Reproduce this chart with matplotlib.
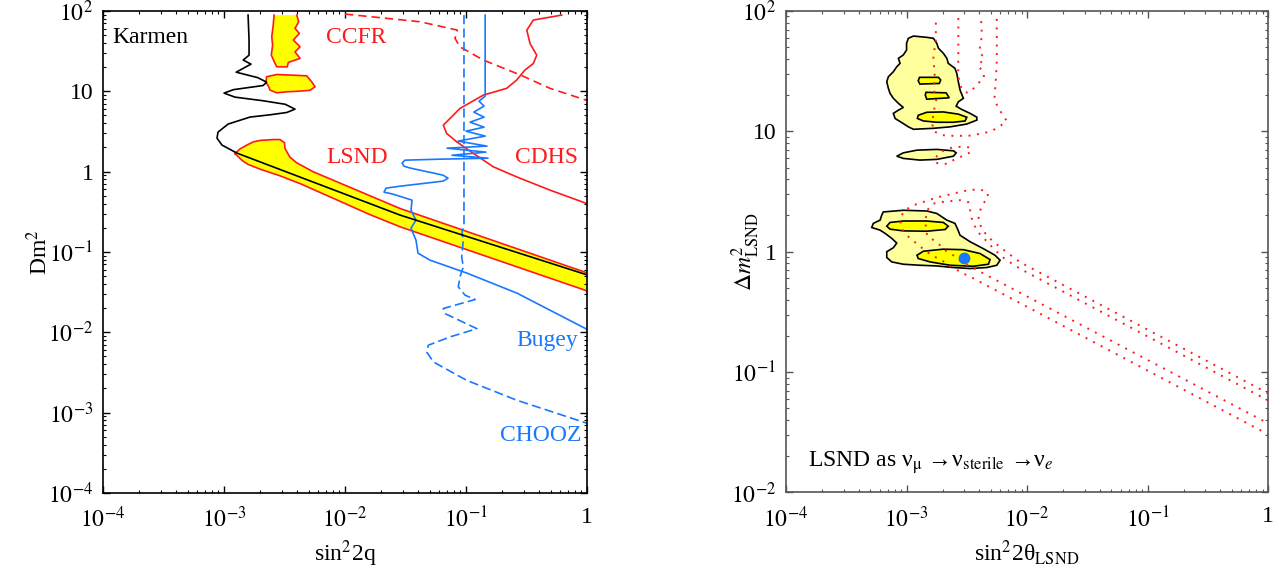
import numpy as np
import matplotlib
matplotlib.use('Agg')
import matplotlib.pyplot as plt
from matplotlib import ticker

plt.rcParams['font.family'] = ['Liberation Serif', 'DejaVu Serif']
plt.rcParams['mathtext.fontset'] = 'stix'

RED = '#ff1a1a'
BLUE = '#1a78ff'
YELLOW = '#ffff00'
PALE = '#ffff9e'

# ---------------- left panel: sin^2 2theta vs dm^2 limits ----------------
karmen_s2 = [1.58e-3, 1.61e-3, 1.61e-3, 1.44e-3, 1.67e-3, 1.26e-3, 1.90e-3, 2.25e-3, 2.10e-3, 1.20e-3,
             1.00e-3, 1.23e-3, 2.10e-3, 3.20e-3, 3.86e-3, 3.30e-3, 2.40e-3, 1.64e-3, 1.08e-3, 8.91e-4,
             8.75e-4, 9.62e-4, 1.28e-3, 2.85e-2, 1.0]
karmen_dm2 = [88.9, 43.4, 28.2, 24.5, 21.8, 17.3, 14.8, 13.0, 11.8, 10.5,
              9.5, 8.47, 7.63, 6.90, 6.0, 5.45, 5.10, 4.78, 3.91, 3.10,
              2.61, 2.14, 1.70, 0.288, 0.0519]

ccfr_strip_s2 = [2.59e-3, 2.55e-3, 2.48e-3, 2.52e-3, 2.46e-3, 2.64e-3, 2.73e-3, 3.33e-3, 3.40e-3,
                 4.25e-3, 3.86e-3, 4.25e-3, 3.74e-3, 4.19e-3, 3.86e-3, 4.14e-3, 3.99e-3]
ccfr_strip_dm2 = [88.9, 66.7, 47.7, 37.6, 28.2, 22.2, 20.2, 20.2, 22.9,
                  25.7, 31.0, 35.8, 43.4, 52.6, 60.7, 73.4, 88.9]
ccfr_blob_s2 = [2.25e-3, 2.73e-3, 4.82e-3, 5.31e-3, 5.65e-3, 5.14e-3, 4.25e-3, 3.30e-3, 2.73e-3,
                2.40e-3, 2.32e-3, 2.22e-3]
ccfr_blob_dm2 = [15.2, 16.2, 15.6, 13.1, 11.4, 10.3, 10.05, 9.86, 9.58, 10.35, 11.7, 12.9]
ccfr_s2 = [1.0e-2, 4.17e-2, 8.47e-2, 8.11e-2, 8.91e-2, 0.139, 0.283, 0.494, 1.0]
ccfr_dm2 = [91.5, 73.4, 57.8, 45.6, 35.8, 24.5, 15.9, 10.9, 7.7]

cdhs_s2 = [0.618, 0.360, 0.318, 0.338, 0.384, 0.360, 0.307, 0.262, 0.217, 0.139,
           8.91e-2, 6.49e-2, 6.92e-2, 8.38e-2, 0.115, 0.168, 0.262, 0.494, 1.0]
cdhs_dm2 = [88.9, 77.1, 57.8, 39.4, 28.2, 22.2, 18.4, 13.8, 10.9, 8.97,
            6.12, 3.79, 2.99, 2.35, 1.69, 1.15, 0.861, 0.589, 0.40]

bugey_s2 = [0.144, 0.144, 0.128, 0.141, 0.116, 0.141, 0.108, 0.141, 0.100, 0.144,
            0.0859, 0.149, 0.0697, 0.146, 0.0766, 0.152, 0.0610, 0.0313, 0.0296, 0.0307,
            0.0344, 0.0646, 0.0710, 0.0646, 0.0285, 0.0218, 0.0210, 0.0249, 0.0358, 0.0351,
            0.0386, 0.0351, 0.0386, 0.0401, 0.0504, 0.102, 0.264, 1.0]
bugey_dm2 = [88.9, 8.71, 7.55, 6.55, 5.51, 4.77, 4.13, 3.58, 3.19, 2.77,
             2.40, 2.08, 1.96, 1.75, 1.60, 1.47, 1.43, 1.39, 1.28, 1.17,
             1.11, 0.904, 0.830, 0.762, 0.659, 0.623, 0.556, 0.525, 0.442, 0.332,
             0.249, 0.198, 0.140, 0.0966, 0.0791, 0.0545, 0.0307, 0.0109]

chooz_s2 = [0.0962, 0.0962, 0.0927, 0.0950, 0.0921, 0.0950, 0.0891, 0.0864, 0.0981, 0.119,
            0.0649, 0.0671, 0.123, 0.0738, 0.0488, 0.0473, 0.0537, 0.101, 0.262, 1.0]
chooz_dm2 = [88.9, 0.216, 0.177, 0.140, 0.0869, 0.0652, 0.0490, 0.0368, 0.0290, 0.0256,
             0.0198, 0.0171, 0.0111, 8.77e-3, 6.91e-3, 5.70e-3, 4.28e-3, 2.53e-3, 1.43e-3, 7.38e-4]

lsnd_upper_s2 = [1.23e-3, 1.35e-3, 1.54e-3, 1.75e-3, 2.0e-3, 2.56e-3, 2.90e-3, 3.16e-3, 3.19e-3,
                 3.51e-3, 3.98e-3, 5.47e-3, 1.26e-2, 2.85e-2, 1.0]
lsnd_upper_dm2 = [1.68, 1.91, 2.14, 2.35, 2.45, 2.51, 2.51, 2.29, 1.94,
                  1.51, 1.29, 0.995, 0.585, 0.348, 0.0550]
lsnd_lower_s2 = [1.23e-3, 1.41e-3, 1.58e-3, 2.0e-3, 2.88e-3, 4.27e-3, 7.94e-3, 1.58e-2, 2.85e-2, 1.0]
lsnd_lower_dm2 = [1.68, 1.38, 1.23, 1.07, 0.891, 0.708, 0.468, 0.295, 0.206, 0.0328]

# ---------------- right panel: LSND fit as numu -> nus -> nue ----------------
wide_top_s2 = [1.035e-3, 1.14e-3, 1.47e-3, 1.67e-3, 1.78e-3, 1.84e-3, 2.02e-3, 2.16e-3, 2.22e-3, 2.52e-3,
               2.61e-3, 2.69e-3, 2.78e-3, 2.96e-3, 2.69e-3, 2.58e-3, 2.87e-3, 3.37e-3, 3.83e-3, 3.83e-3,
               3.16e-3, 2.30e-3, 1.67e-3, 1.14e-3, 1.035e-3, 9.40e-4, 8.03e-4, 7.77e-4, 8.55e-4, 9.40e-4,
               8.55e-4, 7.77e-4, 7.29e-4, 7.06e-4, 6.85e-4, 7.06e-4, 7.77e-4, 8.29e-4, 8.83e-4, 8.55e-4,
               9.40e-4, 1.00e-3, 1.00e-3]
wide_top_dm2 = [59.3, 61.9, 60.4, 59.3, 53.9, 49.0, 44.5, 40.4, 36.7, 33.4,
                30.3, 25.8, 22.0, 18.8, 17.6, 16.2, 15.2, 14.1, 13.1, 12.4,
                11.5, 10.9, 10.6, 10.4, 10.9, 11.6, 12.8, 14.1, 15.0, 15.8,
                17.1, 18.8, 20.7, 22.8, 25.8, 28.4, 31.3, 34.4, 36.7, 40.4,
                43.1, 47.4, 53.9]
wide_mid_s2 = [8.29e-4, 9.40e-4, 1.22e-3, 1.78e-3, 2.45e-3, 2.58e-3, 2.45e-3, 1.78e-3, 1.29e-3, 9.40e-4]
wide_mid_dm2 = [6.22, 6.63, 6.98, 7.08, 6.89, 6.63, 6.22, 5.85, 5.77, 5.96]
wide_low_s2 = [6.41e-4, 9.40e-4, 1.47e-3, 1.78e-3, 2.16e-3, 2.52e-3, 2.64e-3, 2.78e-3, 3.37e-3, 4.34e-3,
               5.42e-3, 5.97e-3, 5.61e-3, 4.63e-3, 3.37e-3, 2.45e-3, 1.78e-3, 1.29e-3, 9.40e-4, 7.54e-4,
               6.85e-4, 6.85e-4, 7.77e-4, 8.29e-4, 7.54e-4, 6.64e-4, 6.03e-4, 5.14e-4, 5.30e-4, 6.03e-4,
               6.22e-4]
wide_low_dm2 = [2.14, 2.21, 2.18, 2.08, 1.83, 1.72, 1.56, 1.37, 1.21, 1.06,
                0.935, 0.850, 0.772, 0.739, 0.725, 0.739, 0.762, 0.772, 0.787, 0.823,
                0.895, 1.0, 1.08, 1.18, 1.29, 1.42, 1.51, 1.59, 1.72, 1.83,
                2.01]

core_a_s2 = [1.28e-3, 1.84e-3, 1.92e-3, 1.87e-3, 1.29e-3, 1.25e-3]
core_a_dm2 = [28.1, 28.1, 26.7, 25.0, 24.7, 26.3]
core_b_s2 = [1.45e-3, 2.13e-3, 2.26e-3, 1.47e-3, 1.43e-3]
core_b_dm2 = [21.1, 20.9, 19.0, 18.5, 20.0]
core_c_s2 = [1.25e-3, 1.47e-3, 2.02e-3, 2.69e-3, 3.16e-3, 3.06e-3, 2.45e-3, 1.78e-3, 1.38e-3, 1.23e-3]
core_c_dm2 = [13.6, 14.4, 14.5, 13.9, 13.1, 12.2, 11.9, 11.9, 12.2, 12.8]
core_d_s2 = [6.85e-4, 7.29e-4, 9.40e-4, 1.47e-3, 2.02e-3, 2.22e-3, 2.09e-3, 1.47e-3, 9.40e-4, 7.29e-4]
core_d_dm2 = [1.63, 1.75, 1.80, 1.80, 1.75, 1.63, 1.53, 1.48, 1.49, 1.54]
core_e_s2 = [1.22e-3, 1.38e-3, 2.02e-3, 2.96e-3, 4.07e-3, 4.93e-3, 4.78e-3, 3.58e-3, 2.30e-3, 1.57e-3, 1.25e-3]
core_e_dm2 = [0.935, 1.01, 1.05, 1.04, 0.966, 0.861, 0.787, 0.757, 0.772, 0.823, 0.878]

best_s2 = [3.0e-3]
best_dm2 = [0.895]

# LSND allowed contours (dotted)
c99_top_s2 = [1.75e-3, 1.75e-3, 1.67e-3, 1.71e-3, 1.69e-3, 1.76e-3, 1.69e-3, 1.63e-3, 1.67e-3, 1.96e-3,
              2.30e-3, 2.78e-3, 3.26e-3, 3.83e-3, 4.48e-3, 5.09e-3, 5.78e-3, 6.79e-3, 6.17e-3, 5.71e-3,
              5.36e-3, 5.42e-3, 5.53e-3, 5.61e-3, 5.61e-3, 5.61e-3]
c99_top_dm2 = [80, 57.4, 41.7, 29.4, 22.0, 18.2, 15.0, 11.9, 10.05, 9.31,
               9.18, 9.18, 9.18, 9.44, 9.73, 10.1, 10.8, 12.2, 14.1, 16.1,
               18.2, 22.0, 28.8, 39.1, 57.4, 92]
c90_top_s2 = [2.69e-3, 2.69e-3, 2.68e-3, 2.78e-3, 2.94e-3, 3.26e-3, 3.56e-3, 3.94e-3, 4.40e-3, 4.34e-3,
              3.92e-3, 4.40e-3, 4.00e-3, 4.15e-3, 4.21e-3, 4.13e-3]
c90_top_dm2 = [87.5, 43.1, 29.4, 24.2, 21.6, 20.8, 22.5, 25.2, 27.7, 31.3,
               34.9, 40.6, 46.5, 54.2, 65.6, 92.6]
c99_isl_s2 = [1.76e-3, 1.90e-3, 2.30e-3, 2.78e-3, 3.37e-3, 3.37e-3, 2.89e-3, 2.45e-3, 2.16e-3, 1.79e-3, 1.76e-3]
c99_isl_dm2 = [6.11, 6.72, 7.26, 7.44, 7.36, 6.68, 6.22, 5.77, 5.37, 5.45, 6.11]
c99_low_s2 = [1.0, 8.75e-3, 6.79e-3, 5.25e-3, 4.63e-3, 4.21e-3, 3.94e-3, 4.02e-3, 4.34e-3, 4.78e-3,
              4.57e-3, 3.87e-3, 3.30e-3, 2.78e-3, 2.37e-3, 2.02e-3, 1.73e-3, 1.47e-3, 1.25e-3, 1.07e-3,
              9.40e-4, 8.83e-4, 9.12e-4, 1.00e-3, 1.14e-3, 1.29e-3, 1.47e-3, 1.67e-3, 1.96e-3, 2.22e-3,
              2.58e-3, 2.96e-3, 3.48e-3, 1.0]
c99_low_dm2 = [0.0666, 0.818, 0.990, 1.21, 1.37, 1.56, 1.83, 2.14, 2.52, 2.86,
               3.21, 3.29, 3.25, 3.14, 3.01, 2.91, 2.80, 2.64, 2.52, 2.36,
               2.14, 1.83, 1.56, 1.37, 1.23, 1.11, 1.0, 0.918, 0.850, 0.772,
               0.711, 0.659, 0.610, 0.0304]
c90_low_s2 = [1.0, 8.75e-3, 6.57e-3, 5.42e-3, 4.63e-3, 3.85e-3, 3.50e-3, 3.37e-3, 3.26e-3, 2.78e-3,
              2.30e-3, 1.90e-3, 1.67e-3, 1.48e-3, 1.43e-3, 1.48e-3, 1.67e-3, 1.90e-3, 2.16e-3, 2.52e-3,
              2.89e-3, 1.0]
c90_low_dm2 = [0.0582, 0.722, 0.867, 1.03, 1.22, 1.48, 1.83, 2.21, 2.58, 2.68,
               2.63, 2.58, 2.51, 2.21, 1.76, 1.37, 1.25, 1.13, 1.0, 0.918,
               0.818, 0.0375]


def log_label(v, pos):
    n = int(round(np.log10(v)))
    if n == 0:
        return '1'
    if n == 1:
        return '10'
    return r'$10^{%d}$' % n


def style_axes(ax, ylim, frame):
    ax.set_xscale('log')
    ax.set_yscale('log')
    ax.set_xlim(1e-4, 1)
    ax.set_ylim(*ylim)
    for axis in (ax.xaxis, ax.yaxis):
        axis.set_major_locator(ticker.LogLocator(base=10, numticks=20))
        axis.set_minor_locator(ticker.LogLocator(base=10, subs=np.arange(2, 10), numticks=20))
        axis.set_major_formatter(ticker.FuncFormatter(log_label))
        axis.set_minor_formatter(ticker.NullFormatter())
    ax.tick_params(which='both', direction='in', top=True, right=True, color=frame, labelsize=17)
    ax.tick_params(which='major', length=5, width=1, pad=7)
    ax.tick_params(which='minor', length=2.5, width=0.8)
    ax.tick_params(axis='x', which='major', pad=10)
    for s in ax.spines.values():
        s.set_color(frame)
        s.set_linewidth(1.2)


fig = plt.figure(figsize=(12.8, 5.69), dpi=100)
ax1 = fig.add_axes([0.0805, 0.1336, 0.3781, 0.8471])
ax2 = fig.add_axes([0.6141, 0.1345, 0.3766, 0.8462])

# ---- left
style_axes(ax1, (1e-4, 1e2), 'black')

band_s2 = lsnd_upper_s2 + lsnd_lower_s2[::-1]
band_dm2 = lsnd_upper_dm2 + lsnd_lower_dm2[::-1]
ax1.fill(band_s2, band_dm2, color=YELLOW, lw=0)
ax1.plot(lsnd_upper_s2, lsnd_upper_dm2, color=RED, lw=1.2)
ax1.plot(lsnd_lower_s2, lsnd_lower_dm2, color=RED, lw=1.2)

ax1.fill(ccfr_strip_s2, ccfr_strip_dm2, color=YELLOW, lw=0)
ax1.plot(ccfr_strip_s2, ccfr_strip_dm2, color=RED, lw=1.2)
ax1.fill(ccfr_blob_s2, ccfr_blob_dm2, facecolor=YELLOW, edgecolor=RED, lw=1.2)
ax1.plot(ccfr_s2, ccfr_dm2, color=RED, lw=1.2, ls=(0, (5, 3)))
ax1.plot(cdhs_s2, cdhs_dm2, color=RED, lw=1.2)

ax1.plot(bugey_s2, bugey_dm2, color=BLUE, lw=1.2)
ax1.plot(chooz_s2, chooz_dm2, color=BLUE, lw=1.2, ls=(0, (5.5, 2.5)))
ax1.plot(karmen_s2, karmen_dm2, color='black', lw=1.2)

lab = dict(fontsize=17, va='center', transform=ax1.transAxes)
ax1.text(0.019, 0.946, 'Karmen', color='black', ha='left', **lab)
ax1.text(0.461, 0.946, 'CCFR', color=RED, ha='left', **lab)
ax1.text(0.461, 0.695, 'LSND', color=RED, ha='left', **lab)
ax1.text(0.851, 0.695, 'CDHS', color=RED, ha='left', **lab)
ax1.text(0.982, 0.317, 'Bugey', color=BLUE, ha='right', **lab)
ax1.text(0.988, 0.120, 'CHOOZ', color=BLUE, ha='right', **lab)

ax1.set_xlabel('sin$^{2}$2q', fontsize=17)
ax1.set_ylabel('Dm$^{2}$', fontsize=17)
ax1.xaxis.set_label_coords(0.5, -0.095)
ax1.yaxis.set_label_coords(-0.105, 0.5)

# ---- right
style_axes(ax2, (1e-2, 1e2), '#555555')

for s2, dm2 in [(wide_top_s2, wide_top_dm2), (wide_mid_s2, wide_mid_dm2), (wide_low_s2, wide_low_dm2)]:
    ax2.fill(s2, dm2, facecolor=PALE, edgecolor='black', lw=1.2)
for s2, dm2 in [(core_a_s2, core_a_dm2), (core_b_s2, core_b_dm2), (core_c_s2, core_c_dm2),
                (core_d_s2, core_d_dm2), (core_e_s2, core_e_dm2)]:
    ax2.fill(s2, dm2, facecolor=YELLOW, edgecolor='black', lw=1.2)

dots = dict(color=RED, lw=1.4, ls=(0, (1, 3.4)))
for s2, dm2 in [(c99_top_s2, c99_top_dm2), (c90_top_s2, c90_top_dm2), (c99_isl_s2, c99_isl_dm2),
                (c99_low_s2, c99_low_dm2), (c90_low_s2, c90_low_dm2)]:
    ax2.plot(s2, dm2, **dots)

ax2.plot(best_s2, best_dm2, 'o', color=BLUE, ms=8.5, mec='none')

ax2.text(0.046, 0.062, r'LSND as ν$_{\mathrm{\mu}}$ →ν$_{\mathrm{sterile}}$ →ν$_{e}$',
         fontsize=17, ha='left', va='center', transform=ax2.transAxes)

ax2.set_xlabel(r'sin$^{2}$2θ$_{\mathrm{LSND}}$', fontsize=17)
ax2.set_ylabel(r'$\Delta m^{2}_{\mathrm{LSND}}$', fontsize=17)
ax2.xaxis.set_label_coords(0.5, -0.095)
ax2.yaxis.set_label_coords(-0.05, 0.5)

fig.savefig('out.png', dpi=100)
